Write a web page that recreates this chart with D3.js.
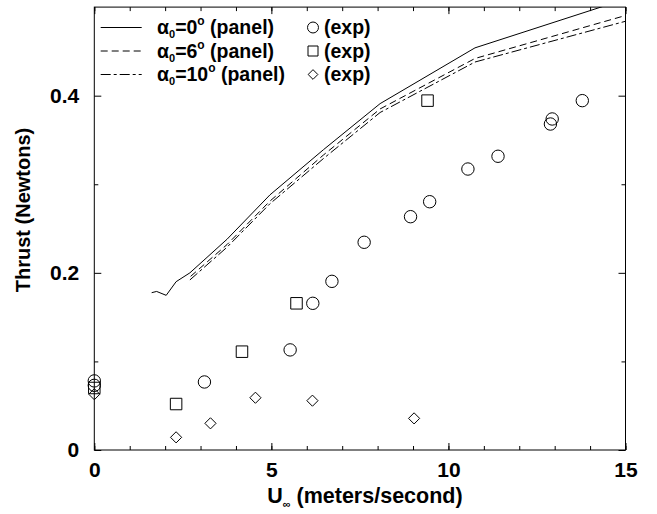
<!DOCTYPE html>
<html>
<head>
<meta charset="utf-8">
<script src="https://cdn.jsdelivr.net/npm/d3@7"></script>
<style>
  body { margin: 0; background: #fff; }
  svg text { font-family: "Liberation Sans", Arial, Helvetica, sans-serif; font-weight: bold; fill: #000; }
</style>
</head>
<body>
<svg id="chart"></svg>
<script>
// panel method curves (U, thrust)
const panel0 = [[1.62, 0.1776], [1.76, 0.179], [2.03, 0.1746], [2.31, 0.190], [2.70, 0.200],
                [3.75, 0.238], [4.96, 0.288], [6.47, 0.339], [8.07, 0.391], [10.75, 0.454], [15, 0.509]];
const panel6 = [[2.72, 0.196], [3.75, 0.232], [4.96, 0.281], [6.47, 0.333], [8.07, 0.385], [10.75, 0.442], [15, 0.4905]];
const panel10 = [[2.70, 0.192], [3.75, 0.229], [4.96, 0.278], [6.47, 0.329], [8.07, 0.381], [10.75, 0.438], [15, 0.484]];

// experiments
const exp0 = [[0, 0.078], [0, 0.073], [3.11, 0.0768], [5.53, 0.113], [6.17, 0.1656], [6.71, 0.1904],
              [7.62, 0.2345], [8.93, 0.2634], [9.47, 0.2803], [10.55, 0.3172], [11.40, 0.3316],
              [12.93, 0.3737], [12.88, 0.368], [13.78, 0.3944]];
const exp6 = [[0, 0.070], [2.31, 0.0519], [4.17, 0.111], [5.71, 0.1656], [9.41, 0.3944]];
const exp10 = [[0, 0.063], [2.31, 0.0143], [3.28, 0.0301], [4.55, 0.059], [6.16, 0.0557], [9.03, 0.0357]];

const xMajor = [0, 5, 10, 15];
const xMinor = d3.range(0, 16, 1);
const yMajor = [0, 0.2, 0.4];
const yMinor = [0.1, 0.3];

const width = 657, height = 514;
const svg = d3.select("#chart").attr("width", width).attr("height", height);

const x = d3.scaleLinear().domain([0, 15]).range([94.3, 625.5]);
const y = d3.scaleLinear().domain([0, 0.5]).range([450, 7.1]);
const [x0, x1] = x.range();
const [yb, yt] = y.range();

// ticks, all pointing inward
svg.append("g").attr("transform", `translate(0,${yb})`)
   .call(d3.axisBottom(x).tickValues(xMinor).tickSize(-4).tickFormat(""));
svg.append("g").attr("transform", `translate(0,${yb})`)
   .call(d3.axisBottom(x).tickValues(xMajor).tickSize(-7).tickPadding(12).tickFormat(d3.format("d")))
   .call(g => g.selectAll("text").attr("font-size", 21));
svg.append("g").attr("transform", `translate(0,${yt})`)
   .call(d3.axisTop(x).tickValues(xMinor).tickSize(-4).tickFormat(""));
svg.append("g").attr("transform", `translate(0,${yt})`)
   .call(d3.axisTop(x).tickValues(xMajor).tickSize(-7).tickFormat(""));

svg.append("g").attr("transform", `translate(${x0},0)`)
   .call(d3.axisLeft(y).tickValues(yMinor).tickSize(-4).tickFormat(""));
svg.append("g").attr("transform", `translate(${x0},0)`)
   .call(d3.axisLeft(y).tickValues(yMajor).tickSize(-7).tickPadding(15).tickFormat(d => d === 0 ? "0" : d3.format(".1f")(d)))
   .call(g => g.selectAll("text").attr("font-size", 21));
svg.append("g").attr("transform", `translate(${x1},0)`)
   .call(d3.axisRight(y).tickValues(yMinor).tickSize(-4).tickFormat(""));
svg.append("g").attr("transform", `translate(${x1},0)`)
   .call(d3.axisRight(y).tickValues(yMajor).tickSize(-7).tickFormat(""));

svg.selectAll(".domain").remove();
svg.selectAll(".tick line").attr("stroke", "#000");

// frame
svg.append("rect")
   .attr("x", x0).attr("y", yt)
   .attr("width", x1 - x0).attr("height", yb - yt)
   .attr("fill", "none").attr("stroke", "#000").attr("stroke-width", 1);

svg.append("clipPath").attr("id", "plot")
   .append("rect").attr("x", x0).attr("y", yt).attr("width", x1 - x0).attr("height", yb - yt);

const line = d3.line().x(d => x(d[0])).y(d => y(d[1]));
const curves = [
    { data: panel0, dash: null },
    { data: panel6, dash: "7,4" },
    { data: panel10, dash: "10,3,3,3" }
];
curves.forEach(c => {
    svg.append("path")
       .attr("clip-path", "url(#plot)")
       .attr("d", line(c.data))
       .attr("fill", "none")
       .attr("stroke", "#000")
       .attr("stroke-width", 1)
       .attr("stroke-dasharray", c.dash);
});

// symbols
const circle = d3.symbol().type(d3.symbolCircle).size(Math.PI * 6.2 * 6.2);
const square = d3.symbol().type(d3.symbolSquare).size(11.5 * 11.5);
const diamond = d3.symbol().type(d3.symbolDiamond2).size(2 * 6.3 * 6.3);
const sets = [
    { data: exp0, sym: circle },
    { data: exp6, sym: square },
    { data: exp10, sym: diamond }
];
sets.forEach(s => {
    svg.append("g").selectAll("path")
       .data(s.data)
       .enter()
       .append("path")
       .attr("transform", d => `translate(${x(d[0])},${y(d[1])})`)
       .attr("d", s.sym())
       .attr("fill", "none")
       .attr("stroke", "#000")
       .attr("stroke-width", 1);
});

// legend
const legendRows = [
    { deg: "0", dash: null, type: d3.symbolCircle, size: Math.PI * 30 },
    { deg: "6", dash: "7,4", type: d3.symbolSquare, size: 100 },
    { deg: "10", dash: "10,3,3,3", type: d3.symbolDiamond2, size: 60 }
];
legendRows.forEach((r, i) => {
    const cy = 27.5 + i * 23.5;
    svg.append("line")
       .attr("x1", 100.7).attr("x2", 141.7)
       .attr("y1", cy).attr("y2", cy)
       .attr("stroke", "#000").attr("stroke-width", 1)
       .attr("stroke-dasharray", r.dash);
    const t = svg.append("text").attr("x", 157).attr("y", cy + 6.5).attr("font-size", 19.5);
    t.append("tspan").text("α");
    t.append("tspan").attr("font-size", 11).attr("dy", 4).text("0");
    t.append("tspan").attr("dy", -4).text("=" + r.deg);
    t.append("tspan").attr("font-size", 12).attr("dy", -9).text("o");
    t.append("tspan").attr("dy", 9).text(" (panel)");

    svg.append("path")
       .attr("transform", `translate(313,${cy})`)
       .attr("d", d3.symbol().type(r.type).size(r.size)())
       .attr("fill", "none").attr("stroke", "#000").attr("stroke-width", 1);
    svg.append("text").attr("x", 324).attr("y", cy + 6.5).attr("font-size", 19.5).text("(exp)");
});

// axis titles
const xt = svg.append("text")
   .attr("x", (x0 + x1) / 2 + 5).attr("y", 503)
   .attr("text-anchor", "middle").attr("font-size", 21.5);
xt.append("tspan").text("U");
xt.append("tspan").attr("font-size", 11).attr("dy", 5).text("∞");
xt.append("tspan").attr("dy", -5).text(" (meters/second)");

svg.append("text")
   .attr("transform", "translate(30,210) rotate(-90)")
   .attr("text-anchor", "middle").attr("font-size", 20)
   .text("Thrust (Newtons)");
</script>
</body>
</html>
